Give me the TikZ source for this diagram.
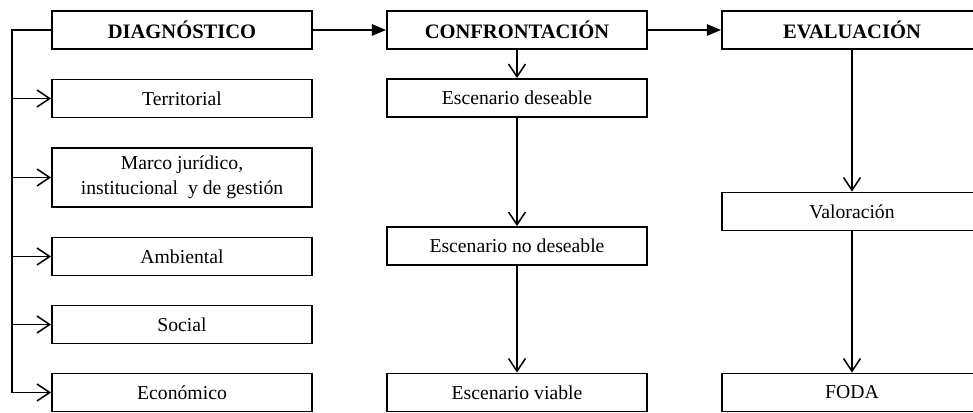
\documentclass[tikz,border=0pt]{standalone}
\usepackage{fontspec}
\setmainfont{Liberation Serif}
\usetikzlibrary{arrows.meta,positioning,calc}

\begin{document}
\begin{tikzpicture}[x=0.025cm, y=-0.025cm,
    box/.style={draw, line width=1.3pt, minimum width=6.5cm, minimum height=0.95cm,
      inner sep=0pt, align=center, font=\fontsize{14}{17.5}\selectfont},
    head/.style={box, font=\fontsize{14.6}{17}\selectfont\bfseries},
    barb/.style={line width=1.1pt, -{Straight Barb[length=9pt,width=12pt,line width=1.1pt]}},
    tri/.style={line width=1.2pt, -{Triangle[length=10pt,width=8pt]}}]
      \useasboundingbox (0,0) rectangle (973,413);

      % Define nodes
      \node[head] (diag) at (182,30) {DIAGNÓSTICO};
      \node[box] (terr) at (182,98.5) {Territorial};
      \node[box, minimum height=1.475cm] (marco) at (182,177.5) {Marco jurídico,\\institucional\ \ y de gestión};
      \node[box] (amb) at (182,256.5) {Ambiental};
      \node[box] (soc) at (182,324.5) {Social};
      \node[box] (eco) at (182,392.5) {Económico};

      \node[head] (conf) at (517,30) {CONFRONTACIÓN};
      \node[box] (des) at (517,98) {Escenario deseable};
      \node[box] (nodes) at (517,246) {Escenario no deseable};
      \node[box] (viab) at (517,392.5) {Escenario viable};

      \node[head] (eval) at (852,30) {EVALUACIÓN};
      \node[box] (val) at (852,211.5) {Valoración};
      \node[box] (foda) at (852,392.5) {FODA};

      \coordinate (spine) at (12,30);

      % Draw edges
      \draw[line width=1.3pt] (diag.west) -- (spine) -- (spine |- eco.west);
      \draw[barb] (spine |- terr.west) -- (terr.west);
      \draw[barb] (spine |- marco.west) -- (marco.west);
      \draw[barb] (spine |- amb.west) -- (amb.west);
      \draw[barb] (spine |- soc.west) -- (soc.west);
      \draw[barb] (spine |- eco.west) -- (eco.west);

      \draw[tri] (diag) -- (conf);
      \draw[tri] (conf) -- (eval);

      \draw[barb] (conf) -- (des);
      \draw[barb] (des) -- (nodes);
      \draw[barb] (nodes) -- (viab);
      \draw[barb] (eval) -- (val);
      \draw[barb] (val) -- (foda);
    \end{tikzpicture}
\end{document}
